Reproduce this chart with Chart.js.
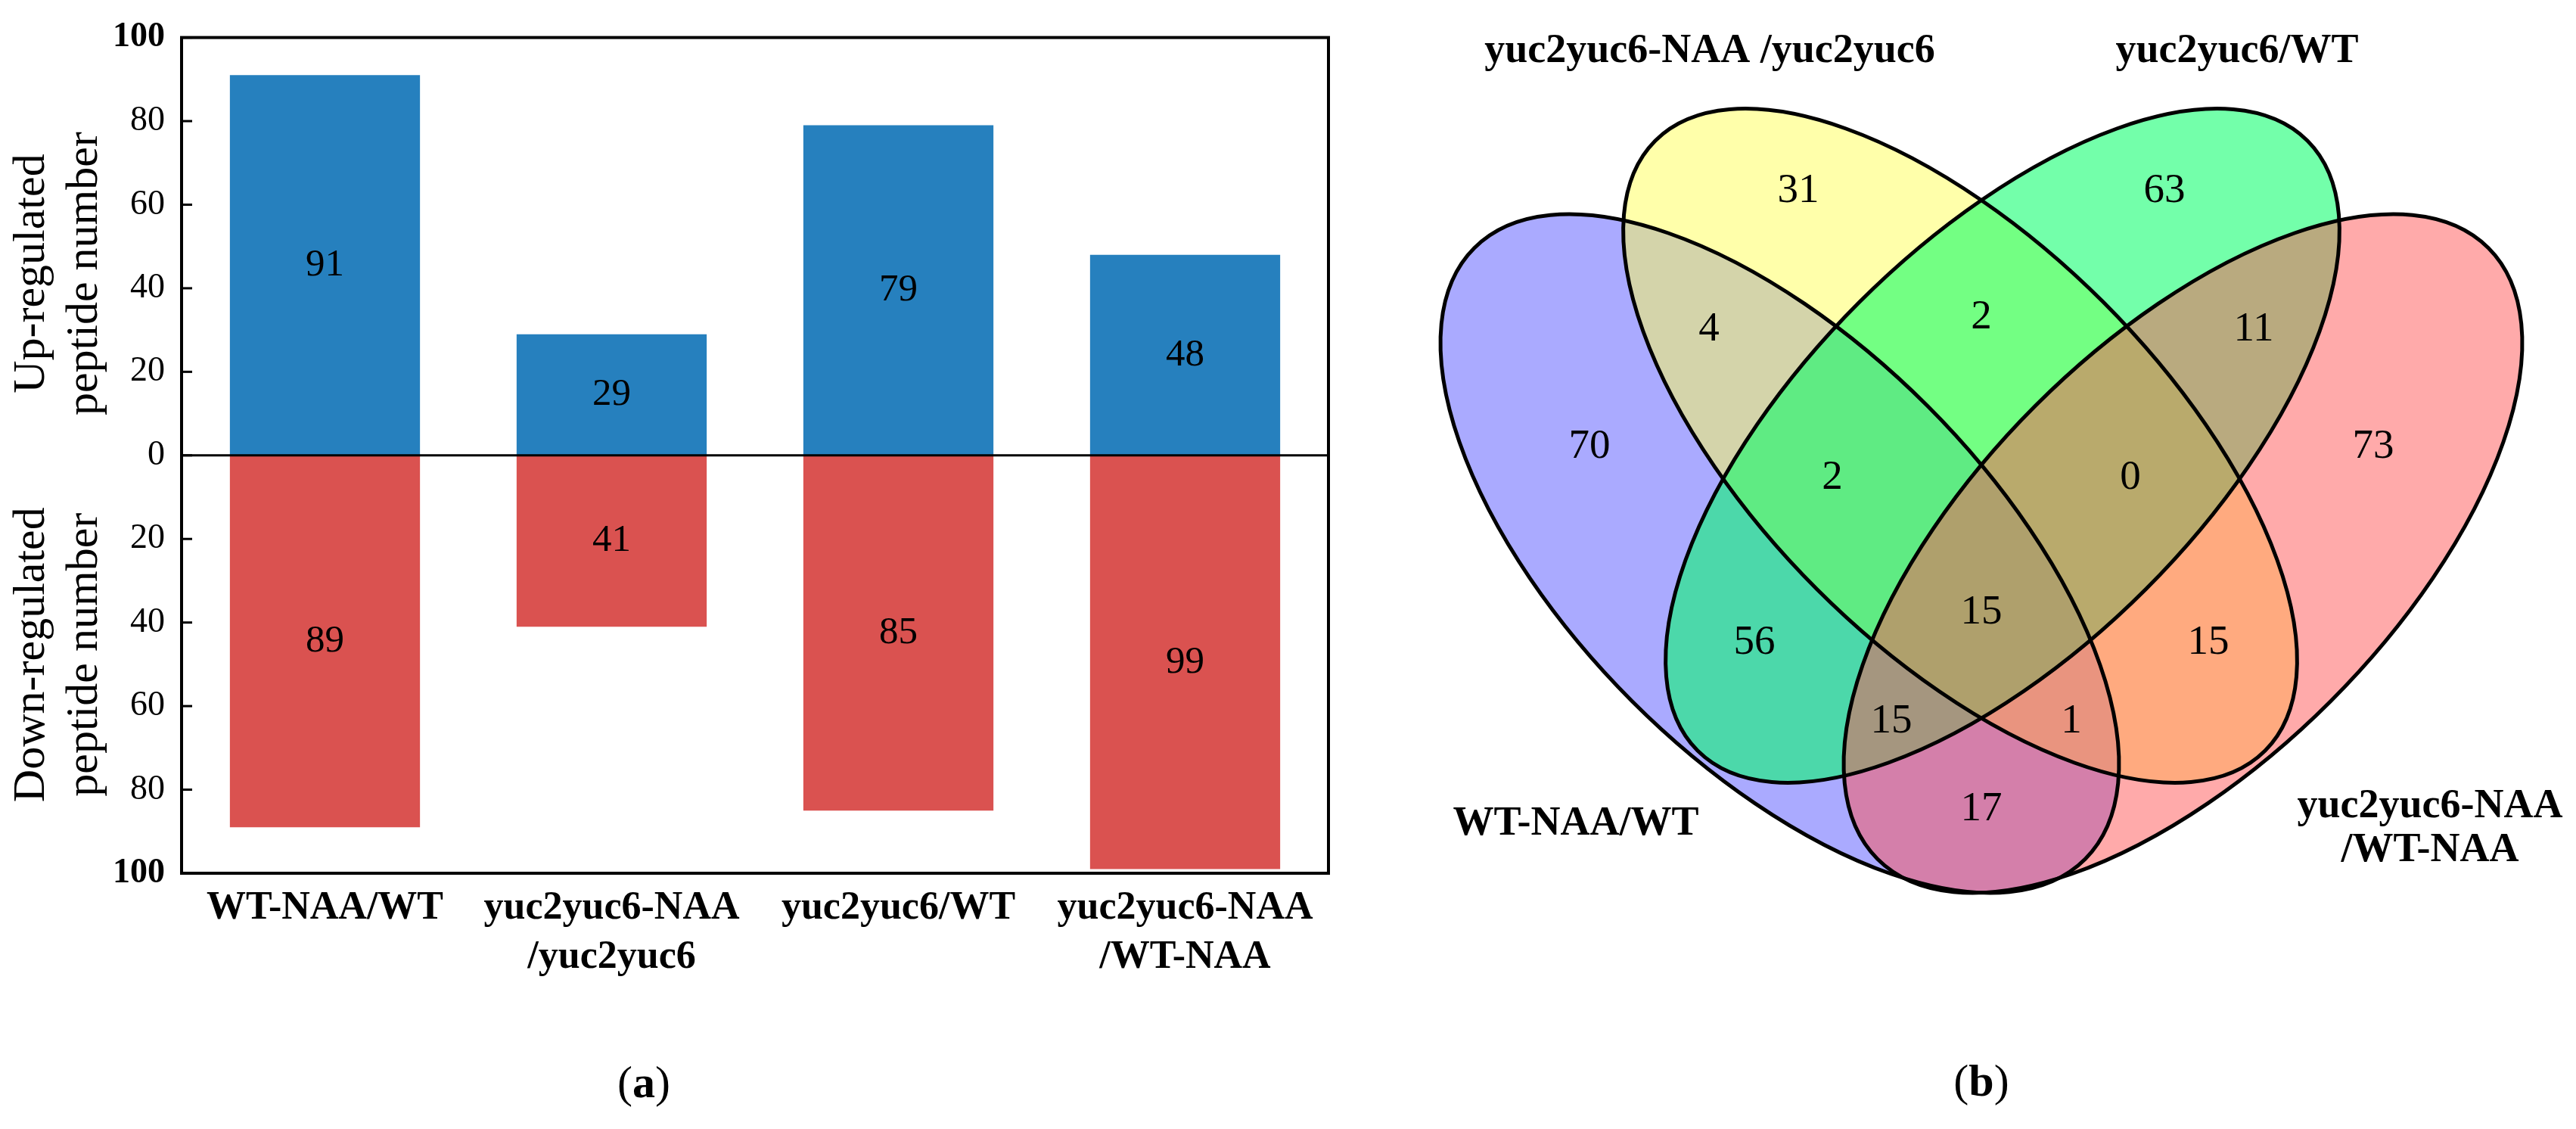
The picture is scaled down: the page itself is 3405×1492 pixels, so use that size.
<!DOCTYPE html>
<html lang="en">
<head>
<meta charset="UTF-8">
<title>Regulated peptides and Venn diagram</title>
<script src="https://cdn.jsdelivr.net/npm/chart.js"></script>
<style>
  body { margin: 0; background: #fff; font-family: "Liberation Serif", serif; }
  #page { position: relative; width: 3405px; height: 1492px; overflow: hidden; background: #fff; }
  #barBox { position: absolute; left: 0; top: 0; width: 1800px; height: 1354px; }
  #vennBox { position: absolute; left: 1800px; top: 0; width: 1605px; height: 1300px; }
  .caption { position: absolute; width: 400px; text-align: center; font-size: 60px; line-height: 60px; color: #000; }
</style>
</head>
<body>
<div id="page">
  <div id="barBox"><canvas id="barChart" width="1800" height="1354"></canvas></div>
  <div id="vennBox"><canvas id="vennChart" width="1605" height="1300"></canvas></div>
  <div class="caption" style="left:651px; top:1400px;">(<b>a</b>)</div>
  <div class="caption" style="left:2419px; top:1398px;">(<b>b</b>)</div>
</div>

<script>
// ---- data for panel (a) ----
const comparisons = ['WT-NAA/WT', ['yuc2yuc6-NAA', '/yuc2yuc6'], 'yuc2yuc6/WT', ['yuc2yuc6-NAA', '/WT-NAA']];
const upRegulated = [91, 29, 79, 48];
const downRegulated = [89, 41, 85, 99];
const tickValues = [-100, -80, -60, -40, -20, 0, 20, 40, 60, 80, 100];

// ---- data for panel (b) ----
const setNames = [['WT-NAA/WT'], ['yuc2yuc6-NAA /yuc2yuc6'], ['yuc2yuc6/WT'], ['yuc2yuc6-NAA', '/WT-NAA']];
const setColors = ['rgba(85,85,255,0.5)', 'rgba(255,255,85,0.5)', 'rgba(0,255,100,0.55)', 'rgba(255,85,85,0.5)'];
const regionCounts = [70, 31, 63, 73, 4, 2, 11, 2, 0, 56, 15, 15, 15, 1, 17];

// venn layout (units of the hidden venn axes)
const regionX = [0.301, 0.577, 1.061, 1.337, 0.459, 0.819, 1.179, 0.622, 1.016, 0.519, 0.819, 1.119, 0.700, 0.938, 0.819];
const regionY = [0.709, 1.047, 1.047, 0.709, 0.864, 0.880, 0.864, 0.668, 0.668, 0.450, 0.490, 0.450, 0.346, 0.346, 0.230];
const ellipseX = [0.5525, 0.791, 0.847, 1.0855];
const ellipseY = [0.5685, 0.711, 0.711, 0.5685];
const ellipseA = [0.571, 0.570, 0.570, 0.571];
const ellipseB = [0.276, 0.268, 0.268, 0.276];
const ellipseAngle = [-45, -45, 45, 45];
const setLabelX = [0.283, 0.460, 1.157, 1.412];
const setLabelY = [0.211, 1.232, 1.232, 0.205];

const serif = '"Liberation Serif", "Times New Roman", serif';

// frame, zero line, inward ticks, bar numbers and the two y titles
const barDecor = {
  id: 'barDecor',
  afterDatasetsDraw(chart) {
    const { ctx, chartArea: a, scales: { y } } = chart;
    ctx.save();
    ctx.fillStyle = '#000';
    ctx.textAlign = 'center';
    ctx.textBaseline = 'middle';
    ctx.font = '51px ' + serif;
    chart.data.datasets.forEach((ds, i) => {
      chart.getDatasetMeta(i).data.forEach((bar, j) => {
        ctx.fillText(Math.abs(ds.data[j]), bar.x, (bar.y + bar.base) / 2);
      });
    });

    ctx.strokeStyle = '#000';
    ctx.lineWidth = 3;
    const y0 = y.getPixelForValue(0);
    ctx.beginPath();
    ctx.moveTo(a.left, y0);
    ctx.lineTo(a.right, y0);
    ctx.stroke();

    y.ticks.forEach(t => {
      const py = y.getPixelForValue(t.value);
      ctx.beginPath();
      ctx.moveTo(a.left, py);
      ctx.lineTo(a.left + 14, py);
      ctx.stroke();
    });

    ctx.lineWidth = 4;
    ctx.strokeRect(a.left, a.top, a.right - a.left, a.bottom - a.top);

    ctx.font = '60px ' + serif;
    const titles = [
      { lines: ['Up-regulated', 'peptide number'], v: 43.5 },
      { lines: ['Down-regulated', 'peptide number'], v: -47.7 }
    ];
    titles.forEach(tt => {
      ctx.save();
      ctx.translate(a.left - 163, y.getPixelForValue(tt.v));
      ctx.rotate(-Math.PI / 2);
      tt.lines.forEach((s, i) => ctx.fillText(s, 0, (i - 0.5) * 70));
      ctx.restore();
    });
    ctx.restore();
  }
};

new Chart(document.getElementById('barChart'), {
  type: 'bar',
  data: {
    labels: comparisons,
    datasets: [
      { label: 'Up-regulated', data: upRegulated, backgroundColor: '#2680be', categoryPercentage: 1, barPercentage: 0.663 },
      { label: 'Down-regulated', data: downRegulated.map(v => -v), backgroundColor: '#da5250', categoryPercentage: 1, barPercentage: 0.663 }
    ]
  },
  options: {
    responsive: false,
    animation: false,
    layout: { padding: { top: 29, right: 44, left: 0, bottom: 0 } },
    plugins: { legend: { display: false }, tooltip: { enabled: false } },
    scales: {
      x: {
        stacked: true,
        grid: { display: false, drawTicks: false },
        border: { display: false },
        ticks: {
          color: '#000',
          padding: 14,
          autoSkip: false,
          maxRotation: 0,
          font: { family: serif, size: 52, weight: 'bold', lineHeight: 1.25 }
        },
        afterFit(s) { s.height = 200; }
      },
      y: {
        stacked: true,
        min: -100,
        max: 100,
        afterBuildTicks(s) { s.ticks = tickValues.map(v => ({ value: v })); },
        grid: { display: false, drawTicks: false },
        border: { display: false },
        ticks: {
          color: '#000',
          padding: 22,
          callback: v => Math.abs(v),
          font: c => ({ family: serif, size: 46, weight: (c.tick && Math.abs(c.tick.value) === 100) ? 'bold' : 'normal' })
        },
        afterFit(s) { s.width = 240; }
      }
    }
  },
  plugins: [barDecor]
});

// ellipses, region counts and set names
const vennDraw = {
  id: 'vennDraw',
  beforeDatasetsDraw(chart) {
    const { ctx, scales: { x, y } } = chart;
    const unit = x.getPixelForValue(1) - x.getPixelForValue(0);
    const path = i => {
      ctx.beginPath();
      ctx.ellipse(x.getPixelForValue(ellipseX[i]), y.getPixelForValue(ellipseY[i]),
        ellipseA[i] * unit, ellipseB[i] * unit, -ellipseAngle[i] * Math.PI / 180, 0, 2 * Math.PI);
    };
    ctx.save();
    setColors.forEach((c, i) => { path(i); ctx.fillStyle = c; ctx.fill(); });
    ctx.strokeStyle = '#000';
    ctx.lineWidth = 5;
    setColors.forEach((c, i) => { path(i); ctx.stroke(); });
    ctx.restore();
  },
  afterDatasetsDraw(chart) {
    const { ctx, scales: { x, y } } = chart;
    ctx.save();
    ctx.fillStyle = '#000';
    ctx.textAlign = 'center';
    ctx.textBaseline = 'middle';
    ctx.font = '55px ' + serif;
    chart.getDatasetMeta(0).data.forEach((pt, i) => {
      ctx.fillText(regionCounts[i], pt.x, pt.y);
    });
    ctx.font = 'bold 54px ' + serif;
    setNames.forEach((lines, i) => {
      const px = x.getPixelForValue(setLabelX[i]);
      const py = y.getPixelForValue(setLabelY[i]);
      lines.forEach((s, k) => ctx.fillText(s, px, py + (k - (lines.length - 1) / 2) * 58));
    });
    ctx.restore();
  }
};

new Chart(document.getElementById('vennChart'), {
  type: 'scatter',
  data: {
    datasets: [{
      label: 'regions',
      data: regionCounts.map((c, i) => ({ x: regionX[i], y: regionY[i] })),
      pointRadius: 0,
      pointHoverRadius: 0
    }]
  },
  options: {
    responsive: false,
    animation: false,
    layout: { padding: 0, autoPadding: false },
    plugins: { legend: { display: false }, tooltip: { enabled: false } },
    scales: {
      x: { type: 'linear', min: 0, max: 1.605, display: false },
      y: { type: 'linear', min: 0, max: 1.3, display: false }
    }
  },
  plugins: [vennDraw]
});
</script>
</body>
</html>
